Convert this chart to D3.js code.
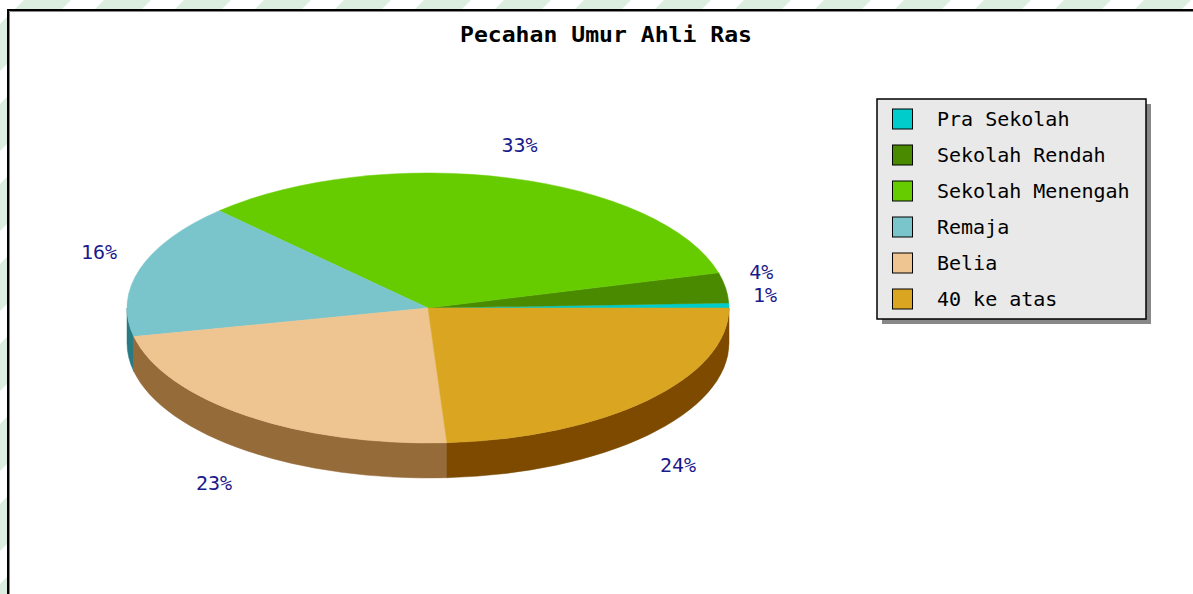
<!DOCTYPE html>
<html>
<head>
<meta charset="utf-8">
<script src="https://cdn.jsdelivr.net/npm/d3@7"></script>
<style>
  body { margin: 0; background: #fff; }
  svg { display: block; }
</style>
</head>
<body>
<script>
// data
const categories = ["Pra Sekolah", "Sekolah Rendah", "Sekolah Menengah", "Remaja", "Belia", "40 ke atas"]
const values = [0.6, 3.6, 33, 16.2, 22.6, 24]
const topColors = ["#00cccc", "#4a8a00", "#66cc00", "#7ac5cc", "#eec591", "#daa520"]
const sideColors = ["#007a7a", "#2c5200", "#3d7a00", "#2a7a84", "#966b3a", "#7d4a00"]
const title = "Pecahan Umur Ahli Ras"

const W = 1193, H = 594
const svg = d3.select("body").append("svg").attr("width", W).attr("height", H)

// striped page background
const defs = svg.append("defs")
const pat = defs.append("pattern")
  .attr("id", "stripes")
  .attr("patternUnits", "userSpaceOnUse")
  .attr("width", 80).attr("height", 80)
pat.append("rect").attr("width", 80).attr("height", 80).attr("fill", "#ffffff")
pat.append("polygon").attr("points", "24,0 71,0 0,71 0,24").attr("fill", "#dbeee0")
pat.append("polygon").attr("points", "80,24 80,71 71,80 24,80").attr("fill", "#dbeee0")

svg.append("rect").attr("width", W).attr("height", H).attr("fill", "url(#stripes)")

// chart panel
svg.append("rect")
  .attr("x", 8).attr("y", 10)
  .attr("width", W + 20).attr("height", H + 20)
  .attr("fill", "#ffffff")
  .attr("stroke", "#000").attr("stroke-width", 2)
svg.append("path")
  .attr("d", `M9.5,${H} V11.5 H${W}`)
  .attr("fill", "none").attr("stroke", "#888").attr("stroke-width", 1)

// title
svg.append("text")
  .attr("x", 606).attr("y", 42)
  .attr("text-anchor", "middle")
  .attr("font-family", "DejaVu Sans Mono")
  .attr("font-weight", "bold")
  .attr("font-size", 21)
  .attr("textLength", 292)
  .attr("lengthAdjust", "spacingAndGlyphs")
  .text(title)

// 3d pie
const cx = 428, cy = 308, rx = 301, ry = 135, depth = 35
const total = d3.sum(values)

// angles counter-clockwise from 3 o'clock
const pie = d3.pie().sort(null).startAngle(0).endAngle(2 * Math.PI)
const arcs = pie(values)

const px = a => cx + rx * Math.cos(a)
const py = a => cy - ry * Math.sin(a)

const pieG = svg.append("g")

// side walls (only the front half is visible)
arcs.forEach((d, i) => {
  const a0 = Math.max(d.startAngle, Math.PI)
  const a1 = Math.min(d.endAngle, 2 * Math.PI)
  if (a1 <= a0) return
  const large = (a1 - a0) > Math.PI ? 1 : 0
  const p = `M${px(a0)},${py(a0)}` +
    ` A${rx},${ry} 0 ${large} 0 ${px(a1)},${py(a1)}` +
    ` L${px(a1)},${py(a1) + depth}` +
    ` A${rx},${ry} 0 ${large} 1 ${px(a0)},${py(a0) + depth} Z`
  pieG.append("path").attr("d", p).attr("fill", sideColors[i])
    .attr("stroke", sideColors[i]).attr("stroke-width", 0.5)
})

// top faces
arcs.forEach((d, i) => {
  const a0 = d.startAngle, a1 = d.endAngle
  const large = (a1 - a0) > Math.PI ? 1 : 0
  const p = `M${cx},${cy} L${px(a0)},${py(a0)}` +
    ` A${rx},${ry} 0 ${large} 0 ${px(a1)},${py(a1)} Z`
  pieG.append("path").attr("d", p).attr("fill", topColors[i])
    .attr("stroke", topColors[i]).attr("stroke-width", 0.5)
})

// percentage labels
const labelOff = 24
const labels = arcs.map((d, i) => {
  const a = (d.startAngle + d.endAngle) / 2
  const c = Math.cos(a), s = Math.sin(a)
  const x = px(a) + labelOff * c
  let y = py(a) - labelOff * s
  y = s >= 0 ? y - 3 : y + depth + 5
  return { c, s, x, y, text: Math.round(values[i] / total * 100) + "%" }
})
// the two thin slices on the right sit close together, stack them
if (labels[0].y - labels[1].y < 23) labels[1].y = labels[0].y - 23

labels.forEach(l => {
  const t = svg.append("text")
    .attr("y", l.y)
    .attr("dominant-baseline", l.s >= 0 ? "alphabetic" : "hanging")
    .attr("font-family", "DejaVu Sans Mono")
    .attr("font-size", 20)
    .attr("fill", "#1a1a8c")
    .text(l.text)
  const w = t.node().getComputedTextLength()
  t.attr("x", l.c < 0 ? l.x - w : l.x - w * (1 - l.c) / 2)
})

// legend
const lx = 877, ly = 99, lw = 269, lh = 220
const legend = svg.append("g")
legend.append("rect")
  .attr("x", lx + 5).attr("y", ly + 5).attr("width", lw).attr("height", lh)
  .attr("fill", "#888")
legend.append("rect")
  .attr("x", lx).attr("y", ly).attr("width", lw).attr("height", lh)
  .attr("fill", "#e9e9e9").attr("stroke", "#000").attr("stroke-width", 1.5)

const rowY = d3.scalePoint().domain(d3.range(categories.length)).range([119, 299])

categories.forEach((name, i) => {
  legend.append("rect")
    .attr("x", 892.5).attr("y", rowY(i) - 10)
    .attr("width", 20).attr("height", 20)
    .attr("fill", topColors[i]).attr("stroke", "#000").attr("stroke-width", 1)
  legend.append("text")
    .attr("x", 937).attr("y", rowY(i) + 7)
    .attr("font-family", "DejaVu Sans Mono")
    .attr("font-size", 20)
    .attr("fill", "#000")
    .text(name)
})
</script>
</body>
</html>
